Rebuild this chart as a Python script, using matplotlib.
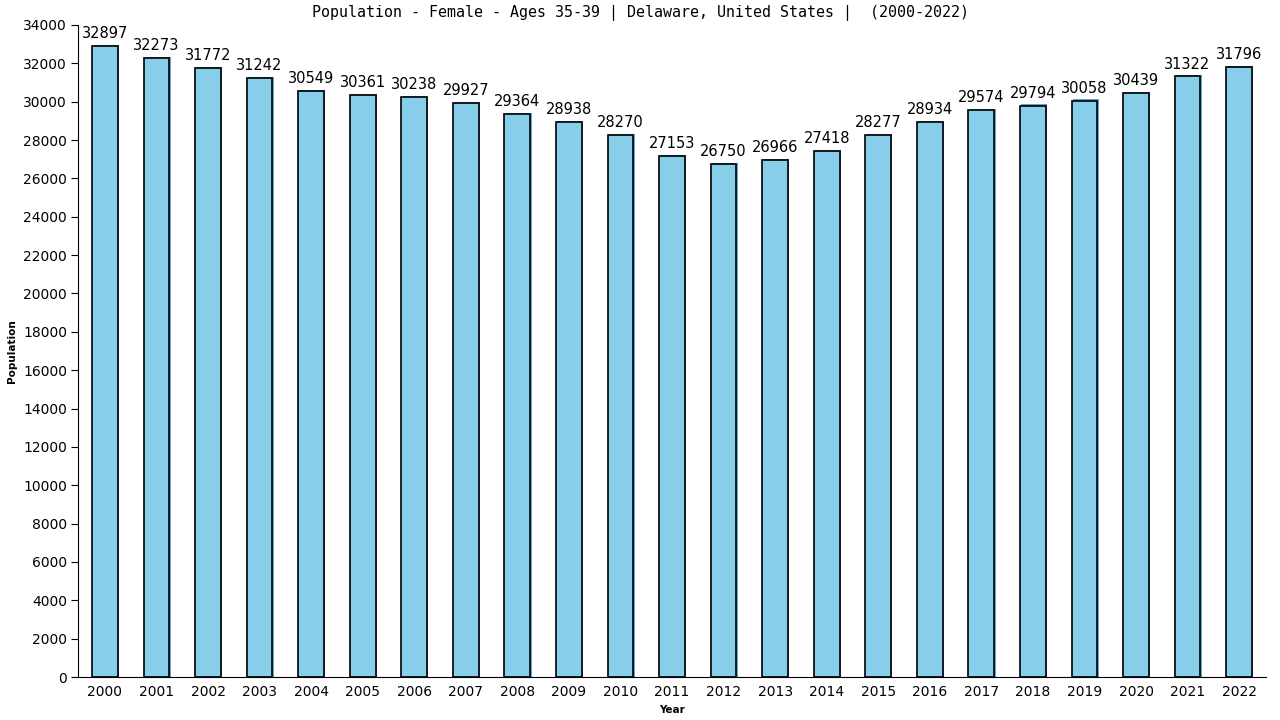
"""Bar chart: female population ages 35-39, Delaware, 2000-2022."""

import matplotlib

matplotlib.use("Agg")
import matplotlib.pyplot as plt

YEARS = [str(y) for y in range(2000, 2023)]
POPULATION = [
    32897, 32273, 31772, 31242, 30549, 30361, 30238, 29927, 29364, 28938,
    28270, 27153, 26750, 26966, 27418, 28277, 28934, 29574, 29794, 30058,
    30439, 31322, 31796,
]
Y_TICKS = list(range(0, 34001, 2000))

TITLE = "Population - Female - Ages 35-39 | Delaware, United States |  (2000-2022)"
BAR_COLOR = "#87ceeb"
SHADOW_COLOR = "#5aa6cf"


def main() -> None:
    fig = plt.figure(figsize=(12.8, 7.2), dpi=100)
    ax = fig.add_axes([0.061, 0.0597, 0.928, 0.9056])

    x = list(range(len(YEARS)))
    # thin darker shadow to the right of each bar
    ax.bar([i + 0.025 for i in x], [v + 60 for v in POPULATION], width=0.5,
           color=SHADOW_COLOR, linewidth=0, zorder=1)
    ax.bar(x, POPULATION, width=0.5, color=BAR_COLOR, edgecolor="black",
           linewidth=1.2, zorder=2)

    for i, v in zip(x, POPULATION):
        ax.text(i, v + 250, str(v), ha="center", va="bottom",
                fontsize=10.5, family="DejaVu Sans", zorder=3)

    ax.set_xlim(-0.52, len(YEARS) - 0.48)
    ax.set_ylim(0, 34000)
    ax.set_xticks(x)
    ax.set_xticklabels(YEARS)
    ax.set_yticks(Y_TICKS)
    ax.tick_params(axis="x", length=0, labelsize=10, pad=6)
    ax.tick_params(axis="y", length=5, labelsize=10, pad=3)

    for side in ("top", "right"):
        ax.spines[side].set_visible(False)

    ax.set_xlabel("Year", fontsize=7.5, fontweight="bold", labelpad=4)
    ax.set_ylabel("Population", fontsize=7.5, fontweight="bold", labelpad=4)
    fig.suptitle(TITLE, x=0.5, y=0.993, fontsize=10.8, family="DejaVu Sans Mono",
                 va="top")

    fig.savefig("out.png", dpi=100)


if __name__ == "__main__":
    main()
